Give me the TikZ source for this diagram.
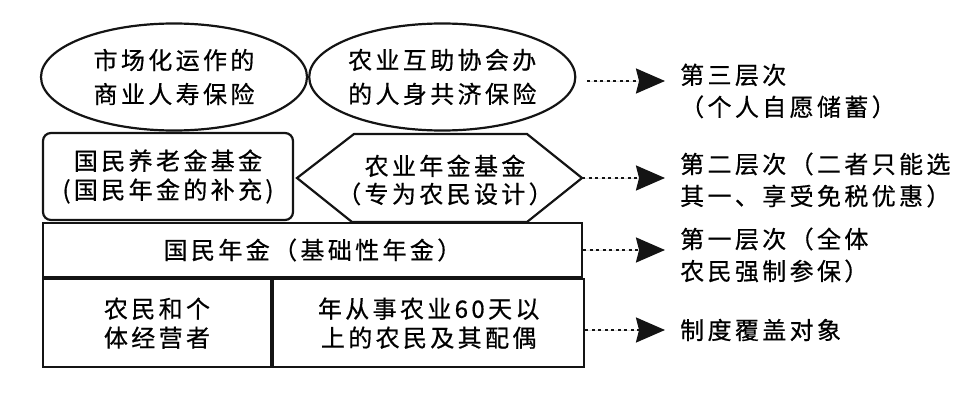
\documentclass[tikz,border=0pt]{standalone}
\usepackage{fontspec}
\newfontfamily\cjk[LetterSpace=14,FakeBold=0.6]{Noto Sans CJK SC}
\usetikzlibrary{positioning,arrows.meta,calc,shapes.geometric}
\definecolor{InkBlack}{RGB}{20,20,20}
\newcommand\tierfont[1]{\cjk\fontsize{24pt}{#1}\selectfont}
\tikzset{
  dotflow/.style={-{Stealth[length=29pt,width=25pt,inset=3pt]},line width=2.2pt,
    dash pattern=on 3pt off 3.5pt,draw=InkBlack,fill=InkBlack},
  outline/.style={draw=InkBlack,line width=2.2pt},
  oval/.style={ellipse,outline,inner sep=0pt,
    minimum height=107pt,align=center,font=\tierfont{34pt}},
  fundbox/.style={outline,rounded corners=8pt,inner sep=0pt,
    align=center,font=\tierfont{29pt}},
  hexline/.style={outline,line join=miter},
  hextext/.style={inner sep=0pt,align=center,font=\tierfont{28pt}},
  cell/.style={outline,inner sep=0pt,align=center,font=\tierfont{29pt}},
  tier/.style={anchor=west,inner sep=0pt,align=left,font=\tierfont{32pt}}
}
\begin{document}
\begin{tikzpicture}[x=1pt,y=-1pt]
  \useasboundingbox (0,0) rectangle (971,396);
  % third tier: voluntary insurance
  \node[oval,minimum width=266pt] (market) at (174,77) {市场化运作的\\商业人寿保险};
  \node[oval,minimum width=248pt,right=0pt of market] (mutual) {农业互助协会办\\的人身共济保险};
  % second tier: funds
  \node[fundbox,minimum width=250pt,minimum height=87pt] (natfund) at (168,176.5)
    {国民养老金基金\\(国民年金的补充)};
  \coordinate (hexW) at (297,178);
  \coordinate (hexE) at (582,178);
  \draw[hexline] (hexW) -- (354,134) -- (527,134) -- (hexE) -- (527,222) -- (352,222) -- cycle;
  \node[hextext] (agrfund) at (445,180) {农业年金基金\\（专为农民设计）};
  % first tier and coverage
  \node[cell,minimum width=539pt,minimum height=54pt] (basic) at (312.5,250)
    {国民年金（基础性年金）};
  \node[cell,minimum width=228pt,minimum height=88pt,below right=0pt of basic.south west]
    (farmer) {农民和个\\体经营者};
  \node[cell,minimum width=311pt,minimum height=88pt,right=0pt of farmer]
    (fulltime) {年从事农业60天以\\上的农民及其配偶};
  % labels on the right
  \node[tier] (tier3) at (680,91) {第三层次\\（个人自愿储蓄）};
  \node[tier] (tier2) at (680,180) {第二层次（二者只能选\\其一、享受免税优惠）};
  \node[tier] (tier1) at (680,255) {第一层次（全体\\农民强制参保）};
  \node[tier] (cover) at (680,330) {制度覆盖对象};
  \coordinate (t3start) at (587,81);
  \coordinate (t3tip) at (665,81);
  \draw[dotflow] (t3start) -- (t3tip);
  \draw[dotflow] (hexE) -- (hexE -| t3tip);
  \draw[dotflow] (basic.east) -- (basic.east -| t3tip);
  \draw[dotflow] (fulltime.east |- cover.west) -- (t3tip |- cover.west);
\end{tikzpicture}
\end{document}
